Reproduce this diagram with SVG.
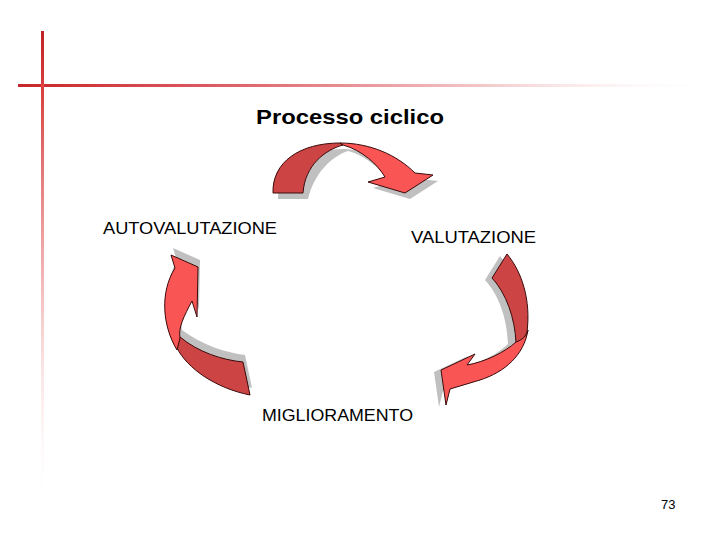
<svg xmlns="http://www.w3.org/2000/svg" width="720" height="540" viewBox="0 0 720 540">
<defs>
<linearGradient id="gv" x1="0" y1="31" x2="0" y2="515" gradientUnits="userSpaceOnUse">
<stop offset="0" stop-color="#c0222a"/>
<stop offset="0.12" stop-color="#d84040"/>
<stop offset="0.5" stop-color="#eea0a0" stop-opacity="0.8"/>
<stop offset="1" stop-color="#ffffff" stop-opacity="0"/>
</linearGradient>
<linearGradient id="gh" x1="18" y1="0" x2="720" y2="0" gradientUnits="userSpaceOnUse">
<stop offset="0" stop-color="#c8262a"/>
<stop offset="0.3" stop-color="#dd6066"/>
<stop offset="0.65" stop-color="#f2c4c6"/>
<stop offset="1" stop-color="#ffffff" stop-opacity="0"/>
</linearGradient>
<style>
.sh{fill:#c0c0c0;stroke:none}
.dk{fill:#cc4444;stroke:#3a0a0a;stroke-width:1}
.lt{fill:#fa5555;stroke:#3a0a0a;stroke-width:1}
.t{font-family:"Liberation Sans",Arial,sans-serif;fill:#000}
</style>
</defs>
<rect width="720" height="540" fill="#ffffff"/>
<rect x="41" y="31" width="3" height="484" fill="url(#gv)"/>
<rect x="18" y="84" width="702" height="3" fill="url(#gh)"/>
<rect x="41" y="84" width="3" height="3" fill="#f04040"/>

<g id="title"><text class="t" x="256" y="124" font-size="21" font-weight="bold" textLength="188" lengthAdjust="spacingAndGlyphs">Processo ciclico</text></g>

<g id="arrow-top">
<g transform="translate(5,6)">
<path class="sh" d="M273,193 C273,160 300,143 340,143 C370,145 393,153 410,167 L415,173 L433,175 L405,193 L368,182 L385,177 C378,165 362,150 343,145 C328,150 310,165 303,193 Z"/>
</g>
<path class="dk" d="M273,193 C272,162 300,143 340,143 L343,145 C325,150 305,165 303,193 Z"/>
<path class="lt" d="M340,143 C370,143 397,155 415,173 L433,175 L405,193 L368,182 L385,177 C378,165 362,150 343,145 Z"/>
</g>

<g id="arrow-left">
<g transform="translate(2,-7)">
<path class="sh" d="M171,255 L198,267 L197,317 L192,301 C183,315 178,330 180,337 C200,352 225,360 243,362 L250,395 C215,388 185,365 177,350 C160,320 162,290 175,268 Z"/>
</g>
<path class="dk" d="M177,348 C187,368 215,388 250,395 L243,362 C222,360 198,352 180,337 Z"/>
<path class="lt" d="M171,255 L198,267 L197,317 L192,301 C184,316 178,328 180,338 L177,350 C162,325 160,292 175,268 Z"/>
</g>

<g id="arrow-right">
<g transform="translate(-7,2)">
<path class="sh" d="M507,254 C522,272 532,300 527,332 C520,355 500,372 480,380 L450,389 L446,405 L441,370 L475,354 L467,365 C485,362 505,352 515,342 C514,315 505,292 492,278 Z"/>
</g>
<path class="dk" d="M507,254 C522,272 531,300 527,332 C525,338 520,341 516,343 C515,318 506,293 492,278 Z"/>
<path class="lt" d="M516,342 C522,340 527,336 528,330 C524,355 505,372 480,380 L450,389 L446,405 L441,370 L475,354 L467,365 C485,362 505,352 516,342 Z"/>
</g>

<g id="node-autovalutazione"><text class="t" x="103" y="234" font-size="17" textLength="174" lengthAdjust="spacingAndGlyphs">AUTOVALUTAZIONE</text></g>
<g id="node-valutazione"><text class="t" x="411" y="243" font-size="17" textLength="125" lengthAdjust="spacingAndGlyphs">VALUTAZIONE</text></g>
<g id="node-miglioramento"><text class="t" x="262" y="421" font-size="17" textLength="151" lengthAdjust="spacingAndGlyphs">MIGLIORAMENTO</text></g>
<g id="page"><text class="t" x="661" y="509" font-size="13">73</text></g>
<g id="connectors"></g>
</svg>
